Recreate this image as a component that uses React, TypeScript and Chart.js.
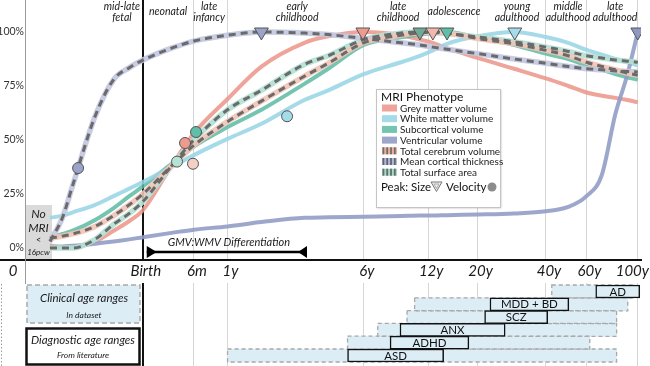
import React, { useEffect, useRef } from 'react';
import { Chart, registerables } from 'chart.js';
Chart.register(...registerables);

// years from conception to birth (40 weeks post-conception)
const PC_BIRTH = 0.767;

// Age grid in years since birth (negative = prenatal)
const ages = [-0.46, -0.42, -0.383, -0.288, -0.192, -0.096, 0, 0.25, 0.5, 1, 1.7, 3, 4, 6, 9, 11, 12.6, 14.6, 20, 29, 40, 50, 60, 70, 80, 90, 100];

// Normalised trajectories (% of peak)
const greyMatter = [1, 0.5, 0.3, 3, 8, 12.5, 17.5, 38, 53, 69, 84, 95, 98, 100, 98.5, 96.5, 95, 92.5, 88, 83, 78.5, 75, 72, 70.5, 69.5, 68.5, 67.5];
const whiteMatter = [14, 15, 16.5, 20, 24, 27.5, 30.5, 37.5, 43, 50.5, 57.5, 68.5, 73, 80.5, 86, 89, 91.5, 94.5, 98, 100, 97.7, 95, 91.7, 89.5, 87.5, 86, 84.5];
const subcortical = [4.6, 6.5, 8, 13, 18.5, 24, 28.5, 39, 47, 56, 64, 76, 83, 94, 97.5, 98.8, 99.5, 100, 97.5, 94, 90, 87.5, 84.5, 82.5, 80.5, 79, 78];
const ventricular = [0.5, 0.7, 1, 2, 3, 4, 5, 7, 8.5, 10, 12, 14, 14.2, 14.5, 14.8, 15, 15, 15.2, 15.5, 16, 17, 19, 24, 34, 62, 80, 100];
const totalCerebrum = [4.5, 5.5, 6.5, 10, 15, 20, 25, 38, 47.5, 58.5, 68, 79.5, 85.5, 95, 98.5, 99.6, 100, 99.6, 97, 94.5, 91.5, 89, 86, 84, 82.5, 81, 80];
const corticalThickness = [3, 14, 29, 61, 78, 83.5, 87, 92.5, 95.8, 98.5, 100, 99.5, 98.8, 97, 95, 94, 93, 92, 90, 87.5, 85.5, 84, 83, 82.5, 82, 81.7, 81.5];
const surfaceArea = [0, 0, 0, 4, 11, 16, 21.5, 38, 50, 64, 73, 85, 89, 96.5, 99.5, 100, 99.8, 99.3, 97.7, 95.5, 93, 91, 89, 88, 87, 86.5, 86];

const seriesNames = ['Grey matter volume', 'White matter volume', 'Subcortical volume', 'Ventricular volume', 'Total cerebrum volume', 'Mean cortical thickness', 'Total surface area'];

// Peak size (triangles) and peak velocity (circles)
const peakAges = [1.7, 5.94, 11, 12.6, 14.6, 29.2, 100];
const peakValues = [100, 100, 100, 100, 100, 100, 100];
const velocityAges = [-0.362, 0.395, 0.528, 0.49, 0.307, 2.41];
const velocityValues = [37, 48.6, 53.7, 39, 40, 61];

const xTickLabels = ['Birth', '6m', '1y', '6y', '12y', '20y', '40y', '60y', '100y'];
const xTickAges = [0, 0.5, 1, 6, 12, 20, 40, 60, 100];
const yTickValues = [0, 25, 50, 75, 100];

const stageLabels = [['mid-late', 'fetal'], ['neonatal'], ['late', 'infancy'], ['early', 'childhood'], ['late', 'childhood'], ['adolescence'], ['young', 'adulthood'], ['middle', 'adulthood'], ['late', 'adulthood']];
const stageLabelAges = [-0.143, 0.216, 0.706, 2.74, 8.72, 15.7, 29.85, 49.9, 79.8];

const disorders = ['AD', 'MDD + BD', 'SCZ', 'ANX', 'ADHD', 'ASD'];
const literatureStart = [65.8, 22.7, 21.5, 8.9, 8, 5];
const literatureEnd = [102, 50.3, 40.7, 26.5, 18.3, 14.1];
const datasetStart = [42.4, 10.4, 9.6, 7.0, 5.0, 1.0];
const datasetEnd = [97, 90.5, 81, 81, 62, 81];

const differentiationRange = [0.03, 3.1];

// ---- styles ----
const COL = {
  gm: 'rgba(236,148,136,0.85)',
  wm: 'rgba(152,213,229,0.88)',
  sub: 'rgba(90,187,163,0.85)',
  ven: 'rgba(146,157,199,0.9)',
  tcvU: 'rgba(241,196,182,0.9)',
  mctU: 'rgba(194,200,225,0.92)',
  saU: 'rgba(180,225,212,0.92)',
  dash: '#6a6a6a',
  barFill: '#dcedf6',
};
const peakColors = ['#9aa3c9', '#ee9a8f', '#6fa898', '#f1b9aa', '#5fbfa9', '#a6dbe8', '#8e99c2'];
const velocityColors = ['#9aa3c9', '#ee9a8f', '#5fbfa9', '#f3cfc4', '#b6e2d6', '#a6dbe8'];
const legendSwatch = [
  { c: COL.gm }, { c: COL.wm }, { c: COL.sub }, { c: COL.ven },
  { c: '#e7b3a4', s: '#7a6a66' }, { c: '#b5bbd6', s: '#5f6478' }, { c: '#a9d6c8', s: '#5f7169' },
];
const FONT = 'Lato, "DejaVu Sans", sans-serif';

const pts = (vals: number[]) => ages.map((a, i) => ({ x: a + PC_BIRTH, y: vals[i] }));

const lineBase = {
  type: 'line', xAxisID: 'x', yAxisID: 'y', pointRadius: 0, cubicInterpolationMode: 'monotone',
  fill: false, borderCapStyle: 'butt', borderJoinStyle: 'round',
};

const AXIS_Y = 260;

const overlayPlugin = {
  id: 'overlay',
  beforeDatasetsDraw(chart: any) {
    const { ctx, chartArea, scales } = chart;
    const xs = scales.x;
    ctx.save();
    const x0 = chartArea.left;
    const x1 = xs.getPixelForValue(ages[0] + PC_BIRTH) + 2;
    ctx.fillStyle = '#dadada';
    ctx.fillRect(x0, 205, x1 - x0, AXIS_Y - 205);
    ctx.fillStyle = '#222';
    ctx.textAlign = 'center';
    ctx.textBaseline = 'middle';
    const cx = (x0 + x1) / 2;
    ctx.font = `italic 12px ${FONT}`;
    ctx.fillText('No', cx, 214);
    ctx.fillText('MRI', cx, 228);
    ctx.font = `9px ${FONT}`;
    ctx.fillText('<', cx, 240);
    ctx.font = `italic 8px ${FONT}`;
    ctx.fillText('16pcw', cx, 252);
    ctx.restore();
  },
  afterDatasetDraw(chart: any, args: any) {
    const ds = chart.data.datasets[args.index];
    if (ds.label !== 'Clinical age ranges') return;
    const { ctx } = chart;
    ctx.save();
    ctx.strokeStyle = '#a9a9a9';
    ctx.lineWidth = 1.3;
    ctx.setLineDash([4, 3]);
    args.meta.data.forEach((el: any) => {
      const p = el.getProps(['x', 'y', 'base', 'height'], true);
      const l = Math.min(p.x, p.base), r = Math.max(p.x, p.base);
      ctx.strokeRect(l, p.y - p.height / 2, r - l, p.height);
    });
    ctx.restore();
  },
  afterDraw(chart: any) {
    const { ctx, chartArea, scales } = chart;
    const xs = scales.x, ys = scales.y;
    ctx.save();
    // white band for tick labels
    ctx.fillStyle = '#fff';
    ctx.fillRect(chartArea.left + 1, AXIS_Y + 1, 650, 22);
    // x axis line
    ctx.strokeStyle = '#111';
    ctx.lineWidth = 2;
    ctx.beginPath(); ctx.moveTo(0, AXIS_Y); ctx.lineTo(chartArea.right + 1, AXIS_Y); ctx.stroke();
    // y axis line
    ctx.strokeStyle = '#9a9a9a';
    ctx.lineWidth = 1;
    ctx.beginPath(); ctx.moveTo(chartArea.left + 0.5, 0); ctx.lineTo(chartArea.left + 0.5, 284); ctx.stroke();
    // x tick labels
    ctx.fillStyle = '#1a1a1a';
    ctx.textBaseline = 'middle';
    ctx.font = `italic 15px ${FONT}`;
    ctx.textAlign = 'center';
    ctx.fillText('0', 13, 271);
    xTickLabels.forEach((t, i) => {
      const px = xs.getPixelForValue(xTickAges[i] + PC_BIRTH);
      if (i === xTickLabels.length - 1) {
        ctx.textAlign = 'right';
        ctx.fillText(t, 649, 271);
      } else {
        ctx.textAlign = 'center';
        ctx.fillText(t, px + 3, 271);
      }
    });
    // y tick labels
    ctx.font = `10.5px ${FONT}`;
    ctx.fillStyle = '#333';
    ctx.textAlign = 'right';
    yTickValues.forEach((v) => {
      ctx.fillText(v + '%', chartArea.left - 1, ys.getPixelForValue(v));
    });
    // stage labels
    ctx.font = `italic 10.5px ${FONT}`;
    ctx.fillStyle = '#1a1a1a';
    ctx.textAlign = 'center';
    stageLabels.forEach((lines, i) => {
      const px = xs.getPixelForValue(stageLabelAges[i] + PC_BIRTH);
      if (lines.length === 1) ctx.fillText(lines[0], px, 12);
      else { ctx.fillText(lines[0], px, 7); ctx.fillText(lines[1], px, 17.5); }
    });

    // legend
    const lx = 376, ly = 89, lw = 124, lh = 118;
    ctx.save();
    ctx.shadowColor = 'rgba(0,0,0,0.3)';
    ctx.shadowBlur = 2; ctx.shadowOffsetX = 1; ctx.shadowOffsetY = 1;
    ctx.fillStyle = '#fff';
    ctx.fillRect(lx, ly, lw, lh);
    ctx.restore();
    ctx.strokeStyle = '#c4c4c4';
    ctx.lineWidth = 1;
    ctx.strokeRect(lx + 0.5, ly + 0.5, lw, lh);
    ctx.textAlign = 'left';
    ctx.fillStyle = '#111';
    ctx.font = `12px ${FONT}`;
    ctx.fillText('MRI Phenotype', lx + 5, ly + 8);
    ctx.font = `10px ${FONT}`;
    seriesNames.forEach((n, i) => {
      const ry = 108 + i * 10.7;
      const sw = legendSwatch[i];
      ctx.fillStyle = sw.c;
      ctx.fillRect(382, ry - 3.5, 15, 7);
      if (sw.s) {
        ctx.fillStyle = sw.s;
        for (let k = 0; k < 4; k++) ctx.fillRect(382.5 + k * 3.8, ry - 3.5, 1.8, 7);
      }
      ctx.fillStyle = '#222';
      ctx.fillText(n, 400, ry + 0.5);
    });
    const py = 187;
    ctx.font = `11.5px ${FONT}`;
    ctx.fillStyle = '#111';
    ctx.fillText('Peak:', 381, py);
    ctx.fillText('Size', 411, py);
    ctx.beginPath();
    ctx.moveTo(431, 182); ctx.lineTo(442, 182); ctx.lineTo(436.5, 191.5); ctx.closePath();
    ctx.fillStyle = '#f2f2f2'; ctx.fill();
    ctx.strokeStyle = '#777'; ctx.stroke();
    ctx.beginPath();
    ctx.moveTo(434, 184); ctx.lineTo(439, 184); ctx.lineTo(436.5, 188.5); ctx.closePath();
    ctx.strokeStyle = '#aaa'; ctx.stroke();
    ctx.fillStyle = '#111';
    ctx.fillText('Velocity', 446, py);
    ctx.beginPath(); ctx.arc(492, py, 4.5, 0, Math.PI * 2); ctx.fillStyle = '#8c8c8c'; ctx.fill();

    // left boxes of bottom panel
    ctx.fillStyle = COL.barFill;
    ctx.fillRect(27, 285, 113, 38);
    ctx.setLineDash([5, 3]);
    ctx.strokeStyle = '#a9a9a9';
    ctx.lineWidth = 1.5;
    ctx.strokeRect(27, 285, 113, 38);
    ctx.setLineDash([]);
    ctx.fillStyle = '#fff';
    ctx.fillRect(26, 328, 114, 37);
    ctx.strokeStyle = '#111';
    ctx.lineWidth = 2.5;
    ctx.strokeRect(26.5, 328.5, 113, 36);
    ctx.fillStyle = '#1a1a1a';
    ctx.textAlign = 'center';
    ctx.font = `italic 11.5px ${FONT}`;
    ctx.fillText('Clinical age ranges', 84, 298);
    ctx.fillText('Diagnostic age ranges', 83, 340);
    ctx.font = `italic 8.5px ${FONT}`;
    ctx.fillText('In dataset', 84, 315);
    ctx.fillText('From literature', 83, 355);
    // dotted line at far left
    ctx.strokeStyle = '#999';
    ctx.lineWidth = 1;
    ctx.setLineDash([1.5, 2]);
    ctx.beginPath(); ctx.moveTo(1.5, 284); ctx.lineTo(1.5, 366); ctx.stroke();
    ctx.setLineDash([]);

    // GMV:WMV differentiation arrow
    const ax0 = xs.getPixelForValue(differentiationRange[0] + PC_BIRTH);
    const ax1 = xs.getPixelForValue(differentiationRange[1] + PC_BIRTH);
    ctx.strokeStyle = '#000';
    ctx.fillStyle = '#000';
    ctx.lineWidth = 2.5;
    ctx.beginPath(); ctx.moveTo(ax0, 252); ctx.lineTo(ax1, 252); ctx.stroke();
    ctx.beginPath(); ctx.moveTo(ax0, 246); ctx.lineTo(ax0, 258); ctx.lineTo(ax0 + 10, 252); ctx.closePath(); ctx.fill();
    ctx.beginPath(); ctx.moveTo(ax1, 246); ctx.lineTo(ax1, 258); ctx.lineTo(ax1 - 9, 252); ctx.closePath(); ctx.fill();
    ctx.font = `italic 11px ${FONT}`;
    ctx.fillStyle = '#1a1a1a';
    ctx.fillText('GMV:WMV Differentiation', (ax0 + ax1) / 2 + 2, 242);

    // disorder labels
    const litIdx = chart.data.datasets.findIndex((d: any) => d.label === 'Diagnostic age ranges');
    const meta = chart.getDatasetMeta(litIdx);
    ctx.font = `11.5px ${FONT}`;
    ctx.fillStyle = '#111';
    meta.data.forEach((el: any, i: number) => {
      const p = el.getProps(['x', 'y', 'base'], true);
      ctx.fillText(disorders[i], (p.x + p.base) / 2, p.y + 0.5);
    });
    ctx.restore();
  },
};

export default function App() {
  const ref = useRef<HTMLCanvasElement>(null);
  useEffect(() => {
    document.body.style.margin = '0';
    const solid = (label: string, vals: number[], color: string) => ({
      ...lineBase, label, data: pts(vals), borderColor: color, borderWidth: 4, order: 6,
    });
    const under = (label: string, vals: number[], color: string) => ({
      ...lineBase, label: label + ' (band)', data: pts(vals), borderColor: color, borderWidth: 5.5, order: 5,
    });
    const dashed = (label: string, vals: number[]) => ({
      ...lineBase, label, data: pts(vals), borderColor: COL.dash, borderWidth: 3, borderDash: [7, 5], order: 4,
    });
    const chart = new Chart(ref.current as HTMLCanvasElement, {
      type: 'line',
      data: {
        datasets: [
          {
            type: 'scatter', label: 'Peak size', xAxisID: 'x', yAxisID: 'y', order: 1,
            data: peakAges.map((a, i) => ({ x: a + PC_BIRTH, y: peakValues[i] })),
            pointStyle: 'triangle', pointRotation: 180, pointRadius: 8,
            pointBackgroundColor: peakColors, pointBorderColor: '#555', pointBorderWidth: 1,
          },
          {
            type: 'scatter', label: 'Peak velocity', xAxisID: 'x', yAxisID: 'y', order: 1,
            data: velocityAges.map((a, i) => ({ x: a + PC_BIRTH, y: velocityValues[i] })),
            pointStyle: 'circle', pointRadius: 5.5,
            pointBackgroundColor: velocityColors, pointBorderColor: '#555', pointBorderWidth: 1,
          },
          dashed(seriesNames[4], totalCerebrum),
          dashed(seriesNames[5], corticalThickness),
          dashed(seriesNames[6], surfaceArea),
          under(seriesNames[4], totalCerebrum, COL.tcvU),
          under(seriesNames[5], corticalThickness, COL.mctU),
          under(seriesNames[6], surfaceArea, COL.saU),
          solid(seriesNames[3], ventricular, COL.ven),
          solid(seriesNames[1], whiteMatter, COL.wm),
          solid(seriesNames[2], subcortical, COL.sub),
          solid(seriesNames[0], greyMatter, COL.gm),
          {
            type: 'bar', label: 'Diagnostic age ranges', indexAxis: 'y', xAxisID: 'x', yAxisID: 'yr', order: 7,
            data: disorders.map((d, i) => ({ y: i, x: [literatureStart[i] + PC_BIRTH, literatureEnd[i] + PC_BIRTH] })),
            backgroundColor: COL.barFill, borderColor: '#111', borderWidth: 1.5, borderSkipped: false,
            barThickness: 13, grouped: false,
          },
          {
            type: 'bar', label: 'Clinical age ranges', indexAxis: 'y', xAxisID: 'x', yAxisID: 'yr', order: 8,
            data: disorders.map((d, i) => ({ y: i, x: [datasetStart[i] + PC_BIRTH, datasetEnd[i] + PC_BIRTH] })),
            backgroundColor: COL.barFill, borderWidth: 0, borderSkipped: false,
            barThickness: 13, grouped: false,
          },
        ] as any,
      },
      options: {
        responsive: false,
        animation: false,
        events: [],
        layout: { padding: { left: 25, right: 9, top: 0, bottom: 0 }, autoPadding: false },
        plugins: { legend: { display: false }, tooltip: { enabled: false } },
        scales: {
          x: {
            type: 'logarithmic', min: 0.24, max: 104, offset: false, beginAtZero: false,
            afterBuildTicks: (s: any) => { s.ticks = xTickAges.map((a) => ({ value: a + PC_BIRTH })); },
            afterFit: (s: any) => { s.height = 0; s.paddingLeft = 0; s.paddingRight = 0; },
            ticks: { display: false },
            border: { display: false },
            grid: {
              offset: false,
              drawTicks: false,
              color: (c: any) => (c.index === 0 ? '#111' : '#d6d6d6'),
              lineWidth: (c: any) => (c.index === 0 ? 2 : 1),
            },
          },
          y: { type: 'linear', display: false, min: -54.63, max: 114.815, offset: false },
          yr: {
            type: 'linear', axis: 'y', display: false, reverse: true, min: -22.77, max: 5.82,
            bounds: 'data', offset: false, grid: { offset: false },
          },
        },
      } as any,
      plugins: [overlayPlugin],
    } as any);
    return () => chart.destroy();
  }, []);
  return <canvas ref={ref} width={650} height={366} style={{ display: 'block', width: 650, height: 366 }} />;
}
